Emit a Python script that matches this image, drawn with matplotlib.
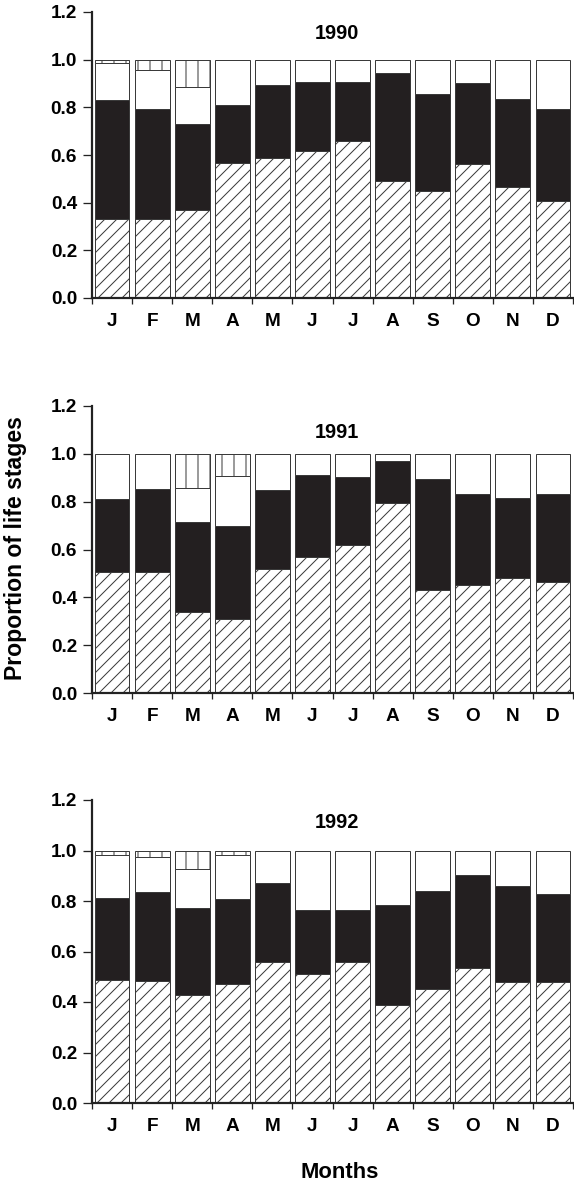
import numpy as np
import matplotlib
matplotlib.use('Agg')
import matplotlib.pyplot as plt

months = ['J', 'F', 'M', 'A', 'M', 'J', 'J', 'A', 'S', 'O', 'N', 'D']
years = ['1990', '1991', '1992']

# proportion of each life stage per month, bottom to top
hatched_90 = [0.333, 0.333, 0.371, 0.567, 0.586, 0.615, 0.657, 0.489, 0.447, 0.561, 0.467, 0.408]
dark_90 = [0.498, 0.461, 0.357, 0.244, 0.308, 0.292, 0.250, 0.455, 0.407, 0.342, 0.366, 0.386]
white_90 = [0.154, 0.162, 0.158, 0.189, 0.106, 0.093, 0.093, 0.056, 0.146, 0.097, 0.167, 0.206]
vert_90 = [0.015, 0.044, 0.114, 0, 0, 0, 0, 0, 0, 0, 0, 0]

hatched_91 = [0.505, 0.508, 0.339, 0.308, 0.517, 0.569, 0.618, 0.795, 0.432, 0.452, 0.480, 0.463]
dark_91 = [0.308, 0.344, 0.374, 0.391, 0.332, 0.342, 0.286, 0.174, 0.462, 0.381, 0.335, 0.370]
white_91 = [0.187, 0.148, 0.145, 0.208, 0.151, 0.089, 0.096, 0.031, 0.106, 0.167, 0.185, 0.167]
vert_91 = [0, 0, 0.142, 0.093, 0, 0, 0, 0, 0, 0, 0, 0]

hatched_92 = [0.486, 0.484, 0.426, 0.470, 0.559, 0.512, 0.558, 0.387, 0.453, 0.534, 0.478, 0.478]
dark_92 = [0.327, 0.350, 0.348, 0.337, 0.313, 0.253, 0.205, 0.399, 0.386, 0.368, 0.383, 0.349]
white_92 = [0.169, 0.140, 0.151, 0.175, 0.128, 0.235, 0.237, 0.214, 0.161, 0.098, 0.139, 0.173]
vert_92 = [0.018, 0.026, 0.075, 0.018, 0, 0, 0, 0, 0, 0, 0, 0]

stages = [
    (hatched_90, dark_90, white_90, vert_90),
    (hatched_91, dark_91, white_91, vert_91),
    (hatched_92, dark_92, white_92, vert_92),
]

plt.rcParams['font.family'] = ['Liberation Sans', 'DejaVu Sans']
plt.rcParams['font.weight'] = 'bold'
plt.rcParams['hatch.linewidth'] = 1.0

W, H = 574, 1183
fig = plt.figure(figsize=(W / 72, H / 72), dpi=72)

# axes boxes in pixels: left, top, right, bottom
boxes = [(92, 12, 573, 298), (92, 406, 573, 693), (92, 800, 573, 1103)]
title_y = [1.11, 1.09, 1.11]

edge = '#3a3a3a'
x = np.arange(12) + 0.5
width = 0.87

for k, (l, t, r, b) in enumerate(boxes):
    ax = fig.add_axes([l / W, 1 - b / H, (r - l) / W, (b - t) / H])
    hatched, dark, white, vert = [np.array(s) for s in stages[k]]

    ax.bar(x, hatched, width, color='white', edgecolor=edge, hatch='//', lw=1.0)
    ax.bar(x, dark, width, bottom=hatched, color='#231f20', edgecolor=edge, lw=1.0)
    ax.bar(x, white, width, bottom=hatched + dark, color='white', edgecolor=edge, lw=1.0)
    top = hatched + dark + white
    keep = vert > 0
    ax.bar(x[keep], vert[keep], width, bottom=top[keep], color='white',
           edgecolor=edge, hatch='|', lw=1.0)

    ax.set_xlim(0, 12)
    ax.set_ylim(0, 1.2)
    ax.set_yticks(np.arange(0, 1.21, 0.2))
    ax.set_yticklabels(['%.1f' % v for v in np.arange(0, 1.21, 0.2)], fontsize=19)
    ax.set_xticks(np.arange(13))
    ax.set_xticklabels([])
    ax.set_xticks(x, months, minor=True, fontsize=19)
    ax.tick_params(axis='y', length=9, width=1.3, pad=6, color='#222')
    ax.tick_params(axis='x', which='major', length=6, width=1.3, color='#222')
    ax.tick_params(axis='x', which='minor', length=0, pad=15)

    for side in ['top', 'right']:
        ax.spines[side].set_visible(False)
    for side in ['left', 'bottom']:
        ax.spines[side].set_linewidth(2.2)
        ax.spines[side].set_color('#222')

    # year label: x in axes fraction, y in data units
    ax.text(0.51, title_y[k], years[k], transform=ax.get_yaxis_transform(),
            fontsize=20, ha='center', va='center')

fig.text(16 / W, 1 - 548 / H, 'Proportion of life stages', rotation=90,
         fontsize=23, ha='center', va='center')
fig.text(340 / W, 1 - 1172 / H, 'Months', fontsize=22, ha='center', va='center')

fig.savefig('out.png', dpi=72)
